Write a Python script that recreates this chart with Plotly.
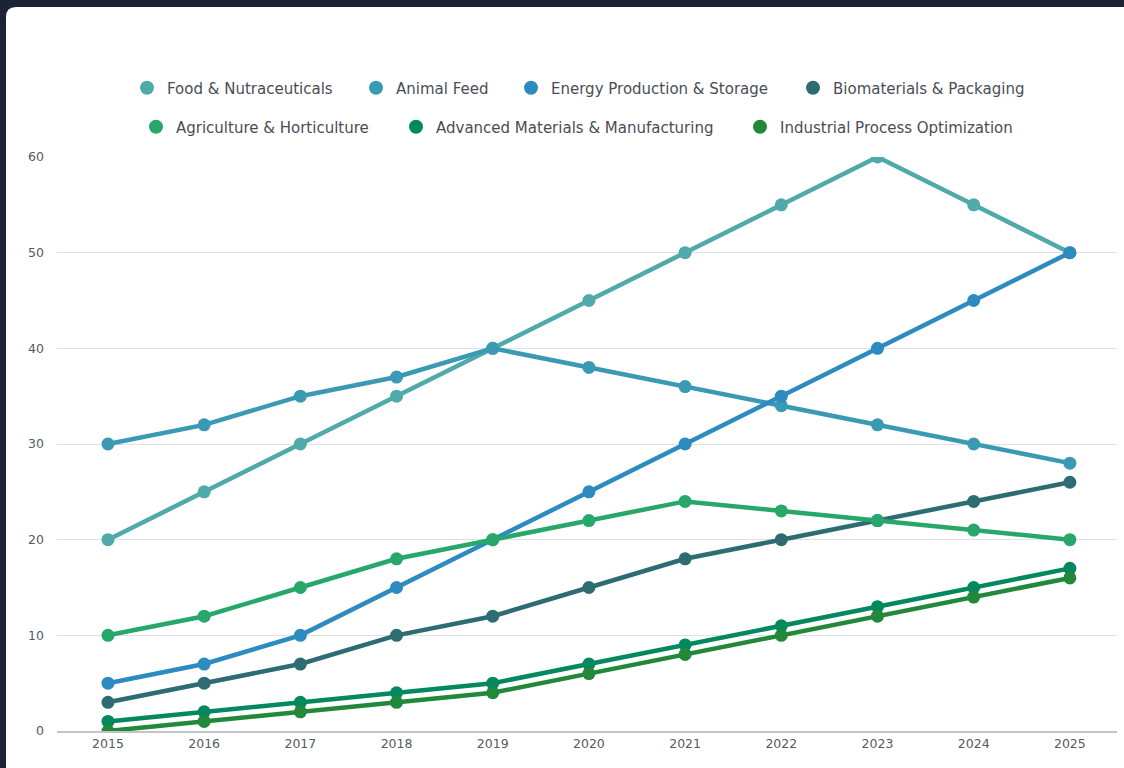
import plotly.graph_objects as go

years = [2015, 2016, 2017, 2018, 2019, 2020, 2021, 2022, 2023, 2024, 2025]
series_names = [
    "Food & Nutraceuticals",
    "Animal Feed",
    "Energy Production & Storage",
    "Biomaterials & Packaging",
    "Agriculture & Horticulture",
    "Advanced Materials & Manufacturing",
    "Industrial Process Optimization",
]
food = [20, 25, 30, 35, 40, 45, 50, 55, 60, 55, 50]
animal_feed = [30, 32, 35, 37, 40, 38, 36, 34, 32, 30, 28]
energy = [5, 7, 10, 15, 20, 25, 30, 35, 40, 45, 50]
biomaterials = [3, 5, 7, 10, 12, 15, 18, 20, 22, 24, 26]
agriculture = [10, 12, 15, 18, 20, 22, 24, 23, 22, 21, 20]
advanced = [1, 2, 3, 4, 5, 7, 9, 11, 13, 15, 17]
industrial = [0, 1, 2, 3, 4, 6, 8, 10, 12, 14, 16]
y_ticks = [0, 10, 20, 30, 40, 50, 60]

values = [food, animal_feed, energy, biomaterials, agriculture, advanced, industrial]
colors = ["#4faaa9", "#3a9ab4", "#2e8bc0", "#2e6c74", "#27a86a", "#03885f", "#22883a"]

# legend entry placement (pixel positions of the legend symbol centres)
legend_px = [(147, 88), (376, 88), (531, 88), (813, 88),
             (156, 127), (416, 127), (760, 127)]

FONT = "DejaVu Sans"
W, H = 1124, 768
L, R, T, B = 57, 7, 157, 37
pw, ph = W - L - R, H - T - B

def px_x(p):
    return (p - L) / pw
def px_y(p):
    return (H - B - p) / ph

fig = go.Figure()

for name, vals, col in zip(series_names, values, colors):
    fig.add_trace(go.Scatter(
        x=years, y=vals, name=name, mode="lines+markers",
        line=dict(color=col, width=4.5),
        marker=dict(color=col, size=13),
        showlegend=False, hoverinfo="x+y+name",
    ))

legend_layouts = {}
for i, (name, col) in enumerate(zip(series_names, colors)):
    key = "legend" if i == 0 else f"legend{i + 1}"
    fig.add_trace(go.Scatter(
        x=[None], y=[None], name=name, mode="markers",
        marker=dict(color=col, size=14),
        legend=key,
    ))
    mx, my = legend_px[i]
    legend_layouts[key] = dict(
        orientation="h", xanchor="left", yanchor="middle",
        x=px_x(mx - 20), y=px_y(my),
        font=dict(family=FONT, size=15, color="#4a4d57"),
        bgcolor="rgba(0,0,0,0)", borderwidth=0,
        itemclick=False, itemdoubleclick=False,
    )

# card shape (paper coords)
r = 10
x0, x1 = px_x(6), px_x(1140)
y0, y1 = px_y(790), px_y(7)
rx, ry = r / pw, r / ph
path = (f"M {x0},{y0} L {x0},{y1 - ry} Q {x0},{y1} {x0 + rx},{y1} "
        f"L {x1 - rx},{y1} Q {x1},{y1} {x1},{y1 - ry} L {x1},{y0} Z")
fig.add_shape(type="path", path=path, xref="paper", yref="paper",
              fillcolor="white", line=dict(width=0), layer="below")

fig.update_layout(
    width=W, height=H,
    margin=dict(l=L, r=R, t=T, b=B),
    paper_bgcolor="#1b2335",
    plot_bgcolor="white",
    font=dict(family=FONT, size=12.5, color="#555a63"),
    xaxis=dict(
        range=[2014.47, 2025.49], tickvals=years, ticktext=[str(y) for y in years],
        showgrid=False, zeroline=False, showline=True,
        linecolor="#c2c3cc", linewidth=2,
        tickfont=dict(family=FONT, size=12.5, color="#555a63"),
        fixedrange=True,
    ),
    yaxis=dict(
        range=[0, 60], tickvals=y_ticks,
        showgrid=True, gridcolor="#dfe1e4", gridwidth=1,
        zeroline=False, showline=False,
        tickfont=dict(family=FONT, size=12.5, color="#555a63"),
        ticklabelstandoff=12,
        fixedrange=True,
    ),
    hovermode="closest",
    **legend_layouts,
)

fig.write_html("out.html", config={"displayModeBar": False})
